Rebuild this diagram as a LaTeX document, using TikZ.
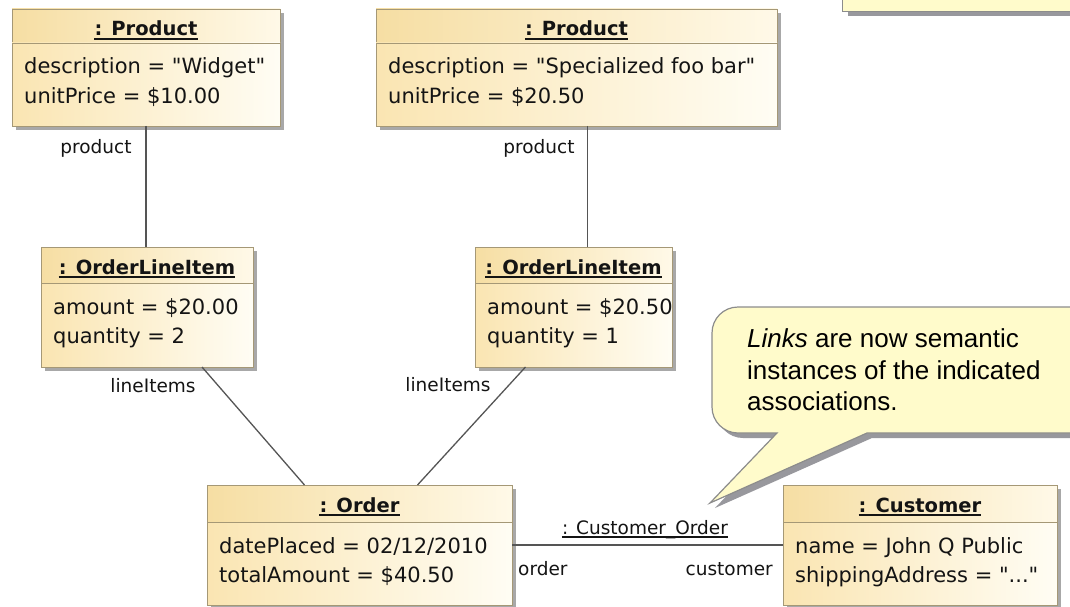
\documentclass[tikz,border=0pt]{standalone}
\usepackage{fontspec}
\usetikzlibrary{shadows}
\newfontfamily\boxfont{DejaVu Sans}
\newfontfamily\notefont{Liberation Sans}

\definecolor{headL}{RGB}{246,222,163}
\definecolor{headR}{RGB}{255,249,232}
\definecolor{bodyL}{RGB}{250,229,178}
\definecolor{bodyR}{RGB}{255,253,244}
\definecolor{objborder}{RGB}{165,152,118}
\definecolor{shadowc}{RGB}{168,168,168}
\definecolor{linkc}{RGB}{85,85,85}
\definecolor{textc}{RGB}{20,20,20}
\definecolor{notefill}{RGB}{255,251,203}
\definecolor{noteborder}{RGB}{140,140,140}
\definecolor{noteshadow}{RGB}{152,152,157}

\tikzset{
  objshadow/.style={drop shadow={shadow xshift=4pt, shadow yshift=-4pt, fill=shadowc, opacity=1}},
  objhead/.style={draw=objborder, line width=0.9pt, left color=headL, right color=headR,
    inner sep=0pt, outer sep=0pt, anchor=north west, objshadow},
  objbody/.style={draw=objborder, line width=0.9pt, left color=bodyL, right color=bodyR,
    inner sep=0pt, outer sep=0pt, anchor=north west, objshadow},
  objtitle/.style={font={\boxfont\bfseries\fontsize{19.5pt}{23pt}\selectfont}, text=textc,
    anchor=base, inner sep=0pt},
  titlerule/.style={draw=textc, line width=1.3pt},
  objattr/.style={font={\boxfont\fontsize{21pt}{25pt}\selectfont}, text=textc,
    anchor=base west, inner sep=0pt},
  role/.style={font={\boxfont\fontsize{18.5pt}{22pt}\selectfont}, text=textc, inner sep=0pt},
  link/.style={draw=linkc, line width=1.3pt},
  notebox/.style={fill=notefill, draw=noteborder, line width=1.2pt,
    drop shadow={shadow xshift=5pt, shadow yshift=-5pt, fill=noteshadow, opacity=1}},
  notetext/.style={font={\notefont\fontsize{26pt}{31pt}\selectfont}, text=black,
    anchor=base west, inner sep=0pt},
}

% object box: name, x1, y1, x2, y of header rule, y2, title, two attribute lines
\newcommand\umlobject[9]{%
  \node[objhead, minimum width={#4-#2}, minimum height={#5-#3}] (#1h) at (#2,#3) {};
  \node[objbody, minimum width={#4-#2}, minimum height={#6-#5}] (#1) at (#2,#5) {};
  \node[objtitle] (#1t) at ({(#2+#4)/2},{#3+27}) {#7};
  \draw[titlerule] ([yshift=-3pt]#1t.base west) -- ([yshift=-3pt]#1t.base east);
  \node[objattr] (#1a) at ({#2+12},{#5+31}) {#8};
  \node[objattr] (#1b) at ({#2+12},{#5+60}) {#9};
}

\begin{document}
\begin{tikzpicture}[x=1pt, y=-1pt]
\useasboundingbox (0,0) rectangle (1070,607);
\clip (0,0) rectangle (1070,607);
\fill[white] (0,0) rectangle (1070,607);

% note at the upper right corner
\node[notebox, anchor=south west, minimum width=260pt, minimum height=40pt] (topnote) at (842,12) {};

% objects
\umlobject{pa}{12}{9}{280}{43}{126}{: Product}{description = "Widget"}{unitPrice = \$10.00}
\umlobject{pb}{376}{9}{777}{43}{126}{: Product}{description = "Specialized foo bar"}{unitPrice = \$20.50}
\umlobject{oa}{41}{247}{253}{283}{367}{: OrderLineItem}{amount = \$20.00}{quantity = 2}
\umlobject{ob}{475}{247}{672}{283}{367}{: OrderLineItem}{amount = \$20.50}{quantity = 1}
\umlobject{ord}{207}{485}{512}{522}{605}{: Order}{datePlaced = 02/12/2010}{totalAmount = \$40.50}
\umlobject{cust}{783}{485}{1057}{522}{605}{: Customer}{name = John Q Public}{shippingAddress = "..."}

% links
\draw[link] (pa.south) -- (pa.south |- oah.north);
\draw[link] ([xshift=11pt]pb.south) -- ([xshift=11pt]pb.south |- obh.north);
\draw[link] ([xshift=55pt]oa.south) -- ([xshift=-55pt]ordh.north);
\draw[link] ([xshift=-48pt]ob.south) -- ([xshift=58pt]ordh.north);
\draw[link] ([yshift=18.5pt]ord.east) -- ([yshift=18.5pt]ord.east -| cust.west);

% link end names
\node[role] (rpa) at (96,148) {product};
\node[role] (rpb) at (539,148) {product};
\node[role] (rla) at (153,386) {lineItems};
\node[role] (rlb) at (448,385) {lineItems};
\node[role, anchor=base west] (rord) at (518,575) {order};
\node[role, anchor=base east] (rcust) at (773,575) {customer};
\node[role, anchor=base] (lname) at (645,534) {: Customer\_Order};
\draw[titlerule, line width=1.1pt] ([yshift=-3pt]lname.base west) -- ([yshift=-3pt]lname.base east);

% callout
\filldraw[notebox] (777,433) -- (710,503) -- (867,433) -- (1100,433) -- (1100,307)
  -- (738,307) .. controls (723.6,307) and (712,318.6) .. (712,333)
  -- (712,407) .. controls (712,421.4) and (723.6,433) .. (738,433) -- cycle;
\node[notetext] (c1) at (747,347) {\textit{Links} are now semantic};
\node[notetext] (c2) at (747,379) {instances of the indicated};
\node[notetext] (c3) at (747,410) {associations.};
\end{tikzpicture}
\end{document}
